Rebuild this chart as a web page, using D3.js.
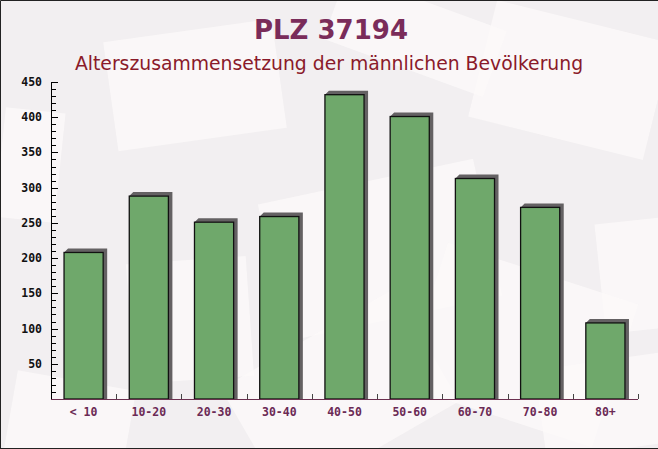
<!DOCTYPE html>
<html><head><meta charset="utf-8">
<script src="https://cdn.jsdelivr.net/npm/d3@7"></script>
<style>html,body{margin:0;padding:0;background:#fff}svg{display:block}</style>
</head><body>
<svg id="c" width="658" height="449"></svg>
<script>
const categories = ["< 10","10-20","20-30","30-40","40-50","50-60","60-70","70-80","80+"];
const values = [208, 288, 251, 259, 432, 401, 313, 272, 108];
const yTicks = [50,100,150,200,250,300,350,400,450];
const title = "PLZ 37194";
const subtitle = "Alterszusammensetzung der männlichen Bevölkerung";

const svg = d3.select("#c");
const W = 658, H = 449;
const m = {left:51, right:20, top:82, bottom:50};

// background
svg.append("rect").attr("width",W).attr("height",H).attr("fill","#f2eff1");
const env = [
  [110,30,170,110,-8],[0,110,60,110,6],[270,180,220,140,-12],[480,20,180,120,14],
  [600,220,80,110,-6],[10,380,120,80,10],[240,330,200,130,-30],[420,270,200,150,18],
  [130,260,120,120,-4],[540,360,140,90,-8],[330,0,170,70,20]
];
const bg = svg.append("g");
env.forEach(e=>{
  bg.append("rect").attr("x",e[0]).attr("y",e[1]).attr("width",e[2]).attr("height",e[3])
    .attr("fill","#fcfaf9").attr("opacity",0.75)
    .attr("transform",`rotate(${e[4]},${e[0]+e[2]/2},${e[1]+e[3]/2})`);
});

const x = d3.scaleBand().domain(categories).range([m.left, 638]).paddingInner(0.4).paddingOuter(0.2);
const y = d3.scaleLinear().domain([0,450]).range([399, 82]);

// bars with shadow
const g = svg.append("g");
categories.forEach((c,i)=>{
  const bx = x(c), bw = x.bandwidth(), by = y(values[i]), bh = y(0)-y(values[i]);
  g.append("path")
    .attr("d",`M${bx},${by} L${bx+4},${by-4} L${bx+bw+4},${by-4} L${bx+bw+4},${y(0)} L${bx+bw},${y(0)} L${bx+bw},${by} Z`)
    .attr("fill","#646163");
  g.append("rect").attr("x",bx).attr("y",by).attr("width",bw).attr("height",bh)
    .attr("fill","#67a363").attr("fill-opacity",0.95).attr("stroke","#111").attr("stroke-width",1.3);
});

// y axis
const yMinor = d3.range(10,450,10);
const ya = svg.append("g");
ya.append("line").attr("x1",51.5).attr("x2",51.5).attr("y1",82).attr("y2",399).attr("stroke","#000");
yMinor.forEach(v=>{
  const major = v%50===0;
  ya.append("line").attr("x1",51).attr("x2",major?58:56).attr("y1",Math.round(y(v))+0.5).attr("y2",Math.round(y(v))+0.5)
    .attr("stroke","#000");
});
ya.append("line").attr("x1",51).attr("x2",58).attr("y1",82.5).attr("y2",82.5).attr("stroke","#000");
yTicks.forEach(v=>{
  ya.append("text").attr("x",42).attr("y",y(v)+4).attr("text-anchor","end")
    .attr("font-family","DejaVu Sans Mono").attr("font-weight","bold").attr("font-size","11.5px")
    .attr("fill","#111").text(v);
});

// x axis
const xa = svg.append("g");
xa.append("line").attr("x1",51).attr("x2",638).attr("y1",399.5).attr("y2",399.5).attr("stroke","#6b2f4f").attr("stroke-width",1.2);
const step = x.step();
categories.forEach((c,i)=>{
  const bx = m.left + step*(i+1);
  xa.append("line").attr("x1",Math.round(bx)+0.5).attr("x2",Math.round(bx)+0.5).attr("y1",399).attr("y2",394).attr("stroke","#444");
  xa.append("text").attr("x",x(c)+x.bandwidth()/2).attr("y",416).attr("text-anchor","middle")
    .attr("font-family","DejaVu Sans Mono").attr("font-weight","bold").attr("font-size","11.5px")
    .attr("fill","#6b2a55").text(c);
});

// titles
svg.append("text").attr("x",331).attr("y",39).attr("text-anchor","middle")
  .attr("font-family","DejaVu Sans").attr("font-weight","bold").attr("font-size","26px")
  .attr("fill","#7a2c5a").text(title);
svg.append("text").attr("x",329).attr("y",70).attr("text-anchor","middle")
  .attr("font-family","DejaVu Sans").attr("font-size","18.8px")
  .attr("fill","#8a1a2a").text(subtitle);

// border
svg.append("path").attr("d",`M0.5,${H-0.5} L0.5,0.5 L${W},0.5 M0,${H-0.5} L${W},${H-0.5}`)
  .attr("fill","none").attr("stroke","#222");
</script>
</body></html>
